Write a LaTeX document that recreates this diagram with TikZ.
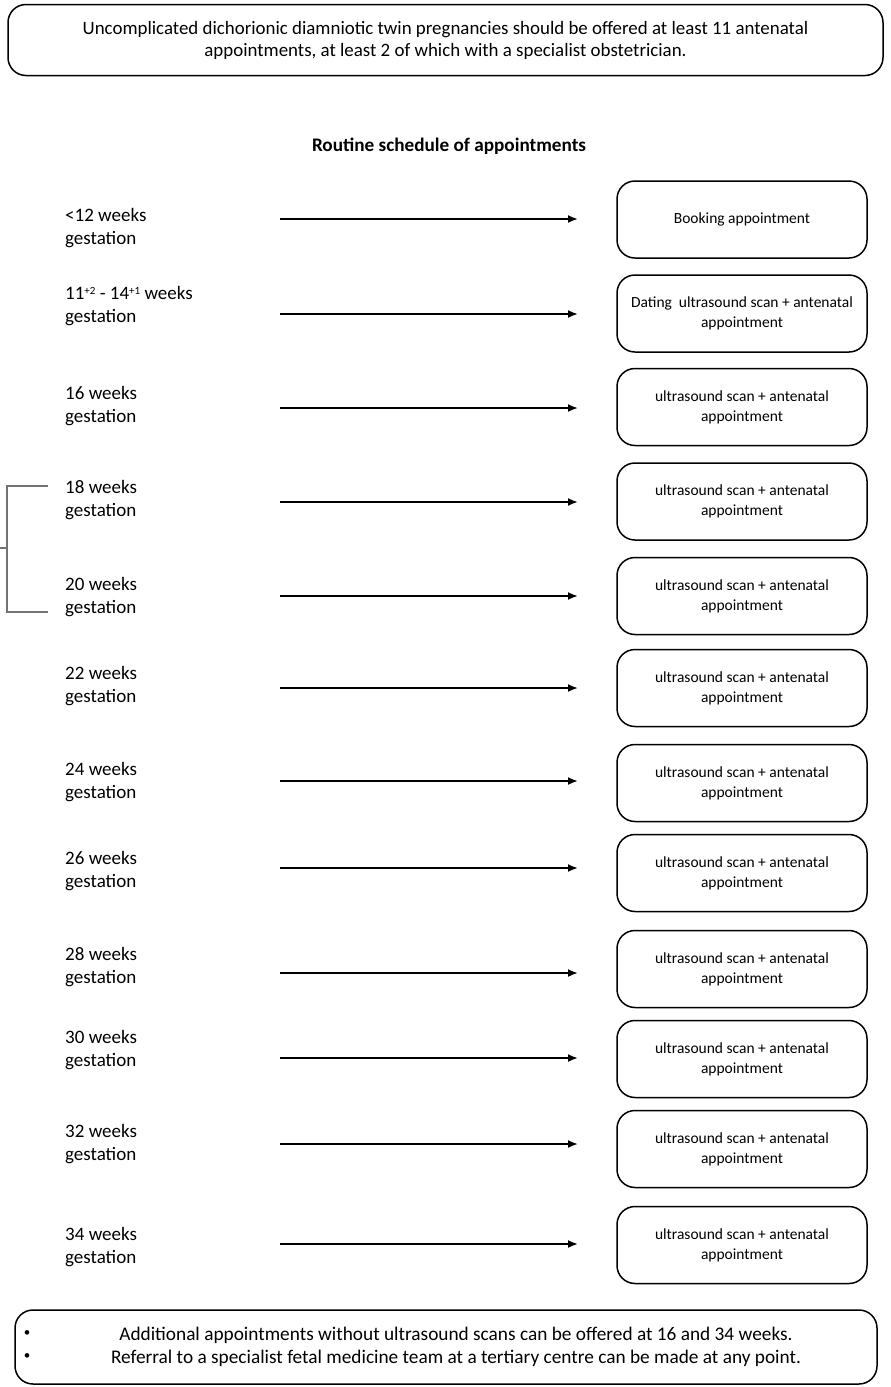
\documentclass[tikz,border=0pt]{standalone}
\usepackage{fontspec}
\setmainfont{Carlito}
\usetikzlibrary{arrows.meta}
\newcommand{\boxround}{18pt}
\newcommand{\lblsize}{\fontsize{19}{23}\selectfont}
\newcommand{\apptsize}{\fontsize{15.5}{20}\selectfont}
\newcommand{\notesize}{\fontsize{19.3}{23}\selectfont}

\begin{document}
\begin{tikzpicture}[x=1pt,y=-1pt,
  appt/.style={draw, line width=1.5pt, rounded corners=\boxround, minimum width=250pt, minimum height=77pt, align=center, inner sep=2pt, font=\apptsize},
  wk/.style={anchor=north west, align=left, inner sep=0pt, font=\lblsize},
  arr/.style={draw, line width=1.8pt, -{Latex[length=10pt,width=8pt]}},
  bracket/.style={draw=black!55, line width=1.1pt}]

\useasboundingbox (0,0) rectangle (891,1387);

\node (top) at (445.5,40) [appt, minimum width=875pt, minimum height=71pt, font=\fontsize{18.9}{22}\selectfont] {Uncomplicated dichorionic diamniotic twin pregnancies should be offered at least 11 antenatal\\appointments, at least 2 of which with a specialist obstetrician.};

\node (title) at (449,146) [font=\fontsize{19.2}{22}\selectfont\bfseries] {Routine schedule of appointments};

% gestation labels
\node (w1) at (65,204.9) [wk] {\strut<12 weeks\\gestation};
\node (w2) at (65,282.9) [wk] {\strut 11{\fontsize{11}{11}\selectfont\raisebox{5pt}{+2}} - 14{\fontsize{11}{11}\selectfont\raisebox{5pt}{+1}} weeks\\gestation};
\node (w3) at (65,382.9) [wk] {\strut 16 weeks\\gestation};
\node (w4) at (65,476.9) [wk] {\strut 18 weeks\\gestation};
\node (w5) at (65,573.9) [wk] {\strut 20 weeks\\gestation};
\node (w6) at (65,662.9) [wk] {\strut 22 weeks\\gestation};
\node (w7) at (65,758.9) [wk] {\strut 24 weeks\\gestation};
\node (w8) at (65,847.9) [wk] {\strut 26 weeks\\gestation};
\node (w9) at (65,943.9) [wk] {\strut 28 weeks\\gestation};
\node (w10) at (65,1026.9) [wk] {\strut 30 weeks\\gestation};
\node (w11) at (65,1120.9) [wk] {\strut 32 weeks\\gestation};
\node (w12) at (65,1223.9) [wk] {\strut 34 weeks\\gestation};

% appointment boxes
\node (b1) at (742,219.5) [appt] {Booking appointment};
\node (b2) at (742,313.5) [appt] {Dating~ ultrasound scan + antenatal\\appointment};
\node (b3) at (742,407) [appt] {ultrasound scan + antenatal\\appointment};
\node (b4) at (742,501.5) [appt] {ultrasound scan + antenatal\\appointment};
\node (b5) at (742,596) [appt] {ultrasound scan + antenatal\\appointment};
\node (b6) at (742,688) [appt] {ultrasound scan + antenatal\\appointment};
\node (b7) at (742,783) [appt] {ultrasound scan + antenatal\\appointment};
\node (b8) at (742,873) [appt] {ultrasound scan + antenatal\\appointment};
\node (b9) at (742,969) [appt] {ultrasound scan + antenatal\\appointment};
\node (b10) at (742,1059) [appt] {ultrasound scan + antenatal\\appointment};
\node (b11) at (742,1149) [appt] {ultrasound scan + antenatal\\appointment};
\node (b12) at (742,1245) [appt] {ultrasound scan + antenatal\\appointment};

% arrow ends
\coordinate (a1) at (280,219);   \coordinate (e1) at (578,219);
\coordinate (a2) at (280,314);   \coordinate (e2) at (578,314);
\coordinate (a3) at (280,408);   \coordinate (e3) at (578,408);
\coordinate (a4) at (280,502);   \coordinate (e4) at (578,502);
\coordinate (a5) at (280,596);   \coordinate (e5) at (578,596);
\coordinate (a6) at (280,688);   \coordinate (e6) at (578,688);
\coordinate (a7) at (280,781);   \coordinate (e7) at (578,781);
\coordinate (a8) at (280,868);   \coordinate (e8) at (578,868);
\coordinate (a9) at (280,973);   \coordinate (e9) at (578,973);
\coordinate (a10) at (280,1058); \coordinate (e10) at (578,1058);
\coordinate (a11) at (280,1144); \coordinate (e11) at (578,1144);
\coordinate (a12) at (280,1244); \coordinate (e12) at (578,1244);

\path
(a1) edge[arr] (e1)
(a2) edge[arr] (e2)
(a3) edge[arr] (e3)
(a4) edge[arr] (e4)
(a5) edge[arr] (e5)
(a6) edge[arr] (e6)
(a7) edge[arr] (e7)
(a8) edge[arr] (e8)
(a9) edge[arr] (e9)
(a10) edge[arr] (e10)
(a11) edge[arr] (e11)
(a12) edge[arr] (e12);

% bracket round 18 and 20 weeks
\coordinate (brtop) at (48,486);
\coordinate (brmid) at (7,548);
\coordinate (brbot) at (48,612);
\coordinate (brstub) at (0,548);
\draw[bracket] (brtop) -| (brmid) |- (brbot) (brmid) -- (brstub);

\node (notes) at (446,1347) [appt, minimum width=862pt, minimum height=74pt, font=\notesize] {\hspace*{20pt}Additional appointments without ultrasound scans can be offered at 16 and 34 weeks.\\\hspace*{20pt}Referral to a specialist fetal medicine team at a tertiary centre can be made at any point.};
\node (dot1) at (27,1334) [font=\fontsize{13}{13}\selectfont] {•};
\node (dot2) at (27,1357) [font=\fontsize{13}{13}\selectfont] {•};

\end{tikzpicture}
\end{document}
